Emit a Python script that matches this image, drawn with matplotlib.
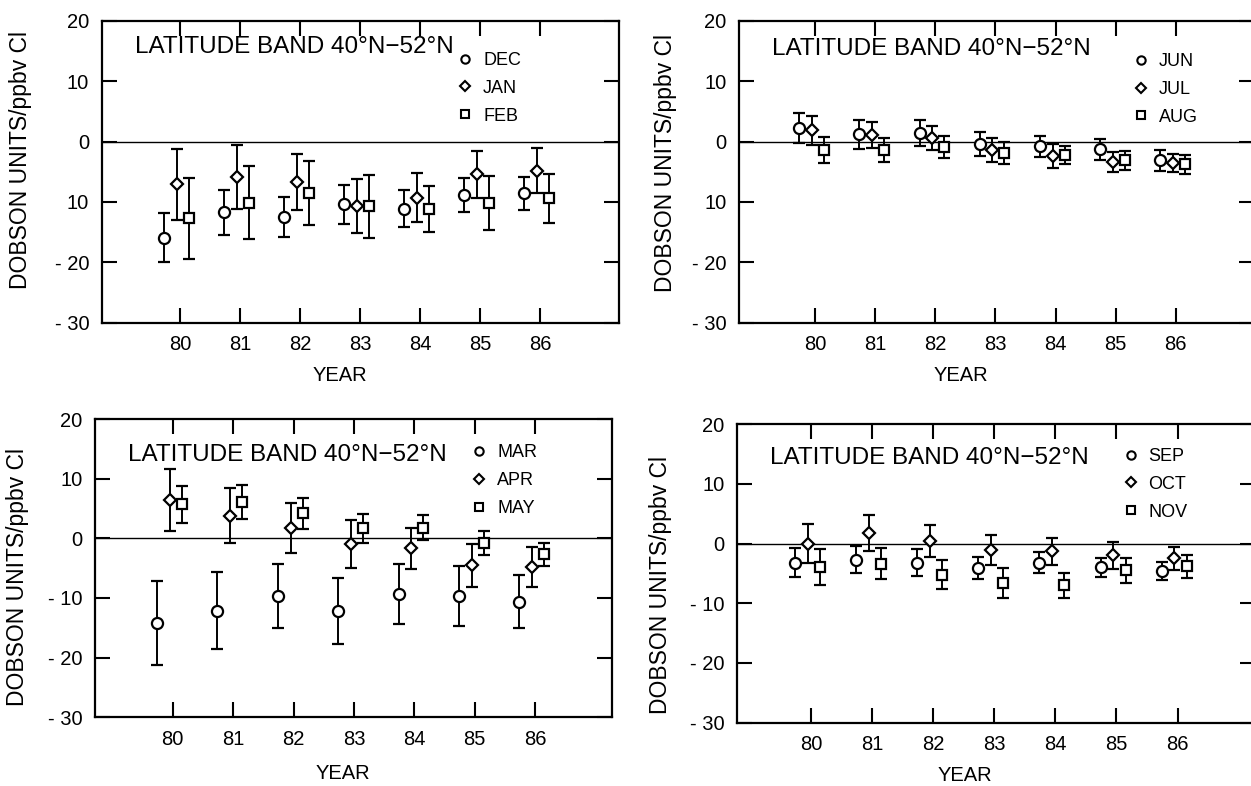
import matplotlib
matplotlib.use("Agg")
import matplotlib.pyplot as plt
from matplotlib.lines import Line2D

plt.rcParams['font.family'] = ['Liberation Sans', 'DejaVu Sans']

years = [80, 81, 82, 83, 84, 85, 86]

# winter panel
dec_val = [-15.9, -11.7, -12.5, -10.4, -11.1, -8.9, -8.6]
dec_err = [4.0, 3.7, 3.3, 3.2, 3.1, 2.8, 2.7]
jan_val = [-7.1, -5.8, -6.7, -10.7, -9.3, -5.4, -4.8]
jan_err = [5.9, 5.3, 4.7, 4.5, 4.1, 3.9, 3.7]
feb_val = [-12.7, -10.1, -8.6, -10.7, -11.2, -10.2, -9.4]
feb_err = [6.7, 6.0, 5.3, 5.2, 3.8, 4.5, 4.1]

# summer panel
jun_val = [2.3, 1.2, 1.4, -0.4, -0.8, -1.3, -3.1]
jun_err = [2.5, 2.4, 2.2, 2.0, 1.8, 1.8, 1.7]
jul_val = [1.9, 1.1, 0.6, -1.4, -2.4, -3.4, -3.6]
jul_err = [2.4, 2.1, 2.0, 2.0, 2.0, 1.7, 1.5]
aug_val = [-1.4, -1.4, -0.9, -1.9, -2.3, -3.1, -3.8]
aug_err = [2.2, 2.0, 1.8, 1.8, 1.5, 1.6, 1.5]

# spring panel
mar_val = [-14.2, -12.1, -9.7, -12.2, -9.3, -9.7, -10.6]
mar_err = [7.0, 6.5, 5.4, 5.5, 5.0, 5.0, 4.4]
apr_val = [6.5, 3.8, 1.8, -0.9, -1.7, -4.5, -4.8]
apr_err = [5.2, 4.6, 4.2, 4.0, 3.5, 3.6, 3.3]
may_val = [5.7, 6.1, 4.2, 1.7, 1.8, -0.8, -2.7]
may_err = [3.1, 2.9, 2.6, 2.4, 2.1, 2.0, 1.9]

# autumn panel
sep_val = [-3.2, -2.7, -3.2, -4.1, -3.2, -4.0, -4.6]
sep_err = [2.4, 2.3, 2.2, 1.9, 1.7, 1.6, 1.5]
oct_val = [0.0, 1.7, 0.4, -1.1, -1.3, -2.0, -2.5]
oct_err = [3.2, 3.0, 2.7, 2.5, 2.3, 2.2, 1.9]
nov_val = [-4.0, -3.4, -5.2, -6.6, -7.0, -4.5, -3.8]
nov_err = [3.0, 2.6, 2.4, 2.5, 2.1, 2.1, 1.9]

ytick_vals = [-30, -20, -10, 0, 10, 20]
ytick_top = ['- 30', '- 20', '10', '0', '10', '20']
ytick_bottom = ['- 30', '- 20', '- 10', '0', '10', '20']

title = 'LATITUDE BAND 40°N\u221252°N'
ylab = 'DOBSON UNITS/ppbv Cl'

fig = plt.figure(figsize=(12.51, 7.86), dpi=100)

panels = [
    dict(rect=[0.0813, 0.5894, 0.4135, 0.3842], xlim=(78.695, 87.317), ylabels=ytick_top,
         series=[('DEC', dec_val, dec_err), ('JAN', jan_val, jan_err), ('FEB', feb_val, feb_err)],
         ylx=-0.135, yly=0.54, xlx=0.46, xly=-0.143, tity=0.913, leg=(0.685, 0.897)),
    dict(rect=[0.5907, 0.5894, 0.4117, 0.3842], xlim=(78.737, 87.30), ylabels=ytick_top,
         series=[('JUN', jun_val, jun_err), ('JUL', jul_val, jul_err), ('AUG', aug_val, aug_err)],
         ylx=-0.12, yly=0.53, xlx=0.43, xly=-0.143, tity=0.905, leg=(0.763, 0.893)),
    dict(rect=[0.0759, 0.0874, 0.4130, 0.3795], xlim=(78.71, 87.27), ylabels=ytick_bottom,
         series=[('MAR', mar_val, mar_err), ('APR', apr_val, apr_err), ('MAY', may_val, may_err)],
         ylx=-0.128, yly=0.47, xlx=0.48, xly=-0.155, tity=0.879, leg=(0.726, 0.915)),
    dict(rect=[0.5891, 0.0805, 0.4137, 0.3800], xlim=(78.79, 87.26), ylabels=ytick_bottom,
         series=[('SEP', sep_val, sep_err), ('OCT', oct_val, oct_err), ('NOV', nov_val, nov_err)],
         ylx=-0.125, yly=0.46, xlx=0.44, xly=-0.145, tity=0.886, leg=(0.743, 0.92)),
]

markers = ['o', 'D', 's']
msizes = [8.0, 6.5, 7.0]
offsets = [-0.26, -0.05, 0.15]

for p in panels:
    ax = fig.add_axes(p['rect'])
    ax.axhline(0, color='black', lw=1.0, zorder=1)
    handles = []
    for (name, vals, errs), m, ms, off in zip(p['series'], markers, msizes, offsets):
        xs = [y + off for y in years]
        ax.errorbar(xs, vals, yerr=errs, fmt=m, ms=ms, mfc='white', mec='black', mew=1.6,
                    ecolor='black', elinewidth=1.4, capsize=4, capthick=1.4, zorder=3)
        handles.append(Line2D([], [], ls='none', marker=m, ms=ms * 0.75, mfc='white',
                              mec='black', mew=1.5, label=name))
    ax.set_xlim(*p['xlim'])
    ax.set_ylim(-30, 20)
    ax.set_xticks(years)
    ax.set_xticklabels([str(y) for y in years])
    ax.set_yticks(ytick_vals)
    ax.set_yticklabels(p['ylabels'])
    ax.tick_params(axis='x', direction='in', top=True, length=11, width=1.5, pad=9, labelsize=14.5)
    ax.tick_params(axis='y', direction='in', right=True, length=11, width=1.5, pad=9, labelsize=14.5)
    for s in ax.spines.values():
        s.set_linewidth(1.6)
    ax.set_ylabel(ylab, fontsize=16.5)
    ax.yaxis.set_label_coords(p['ylx'], p['yly'])
    ax.set_xlabel('YEAR', fontsize=14.5)
    ax.xaxis.set_label_coords(p['xlx'], p['xly'])
    ax.text(0.064, p['tity'], title, transform=ax.transAxes, fontsize=17.5, va='center', ha='left')
    ax.legend(handles=handles, loc='upper left', bbox_to_anchor=p['leg'], frameon=False,
              fontsize=13, handlelength=1.0, handletextpad=0.5, labelspacing=0.6,
              borderaxespad=0.0, borderpad=0.0)

fig.savefig('out.png', dpi=100)
